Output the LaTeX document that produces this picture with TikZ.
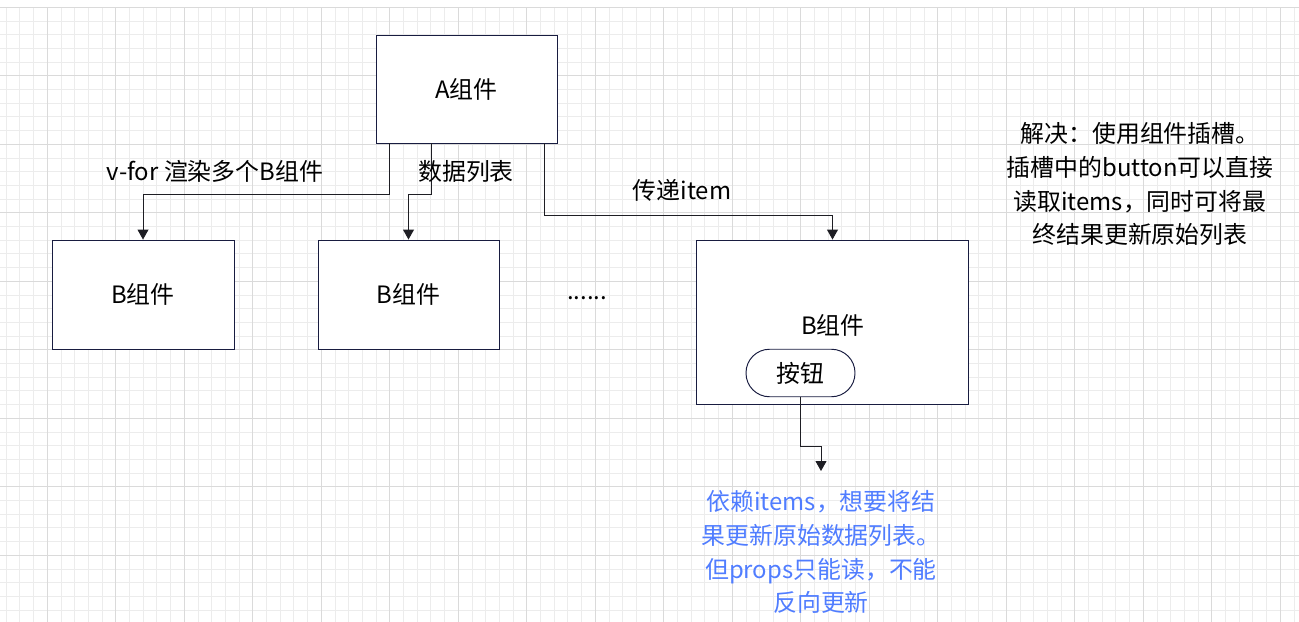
\documentclass[tikz,border=0pt]{standalone}
\usepackage{fontspec}
\setmainfont{Noto Sans CJK SC}
\usetikzlibrary{arrows.meta}
\definecolor{bnavy}{RGB}{24,28,64}
\definecolor{cblack}{RGB}{30,30,36}
\definecolor{nblue}{RGB}{80,125,255}
\definecolor{gminor}{RGB}{236,236,236}
\definecolor{gmajor}{RGB}{218,218,218}
\begin{document}
\begin{tikzpicture}[x=0.02cm, y=-0.02cm,
                    cbox/.style = {shape = rectangle,
                                   draw = bnavy,
                                   line width = 0.55pt,
                                   fill = white,
                                   inner sep = 0pt},
                    lbl/.style = {inner sep = 0pt,
                                  font = \fontsize{13.6}{19.3}\selectfont},
                    arr/.style = {draw = cblack,
                                  line width = 0.55pt,
                                  -{Triangle[length=0.2cm, width=0.22cm]}}]
		\useasboundingbox (0,0) rectangle (1299,622);
		\fill[white] (0,0) rectangle (1299,622);
		% grid
		\foreach \i in {0,...,94}
			\draw[gminor, line width=0.5pt] (6.2+13.7*\i,7.3) -- (6.2+13.7*\i,622);
		\foreach \j in {0,...,44}
			\draw[gminor, line width=0.5pt] (0,7.3+13.7*\j) -- (1299,7.3+13.7*\j);
		\foreach \i in {0,...,18}
			\draw[gmajor, line width=0.6pt] (47.3+68.5*\i,7.3) -- (47.3+68.5*\i,622);
		\foreach \j in {0,...,8}
			\draw[gmajor, line width=0.6pt] (0,7.3+68.5*\j) -- (1299,7.3+68.5*\j);
		% components
		\node[cbox, minimum width=3.62cm, minimum height=2.16cm, lbl] (A) at (466.5,89) {A组件};
		\node[cbox, minimum width=3.64cm, minimum height=2.18cm, lbl] (B1) at (143,294.5) {B组件};
		\node[cbox, minimum width=3.62cm, minimum height=2.18cm, lbl] (B2) at (408.5,294.5) {B组件};
		\node[lbl] (dots) at (587,298) {......};
		\node[cbox, minimum width=5.46cm, minimum height=3.28cm] (B3) at (832.5,322) {};
		\node[lbl] (B3t) at (833,325) {B组件};
		\node[cbox, rounded corners=0.47cm, minimum width=2.18cm, minimum height=0.95cm, lbl] (btn) at (800.5,373) {按钮};
		\coordinate (tip) at (821,471);
		% connectors
		\draw[arr] ([xshift=0.28cm]A.south west) -- ++(0,51) -| (B1.north);
		\draw[arr] ([xshift=1.12cm]A.south west) -- ++(0,51) -| (B2.north);
		\draw[arr] ([xshift=-0.25cm]A.south east) -- ++(0,72) -| (B3.north);
		\draw[arr] (btn.south) -- ++(0,49) -| (tip);
		% labels
		\node[lbl] (l1) at (215,171) {v-for 渲染多个B组件};
		\node[lbl] (l2) at (466,171) {数据列表};
		\node[lbl] (l3) at (682,190) {传递item};
		\node[lbl, align=center] (sol) at (1140,184) {解决：使用组件插槽。\\插槽中的button可以直接\\读取items，同时可将最\\终结果更新原始列表};
		\node[lbl, align=center, text=nblue] (note) at (821,552) {依赖items，想要将结\\果更新原始数据列表。\\但props只能读，不能\\反向更新};
	\end{tikzpicture}
\end{document}
